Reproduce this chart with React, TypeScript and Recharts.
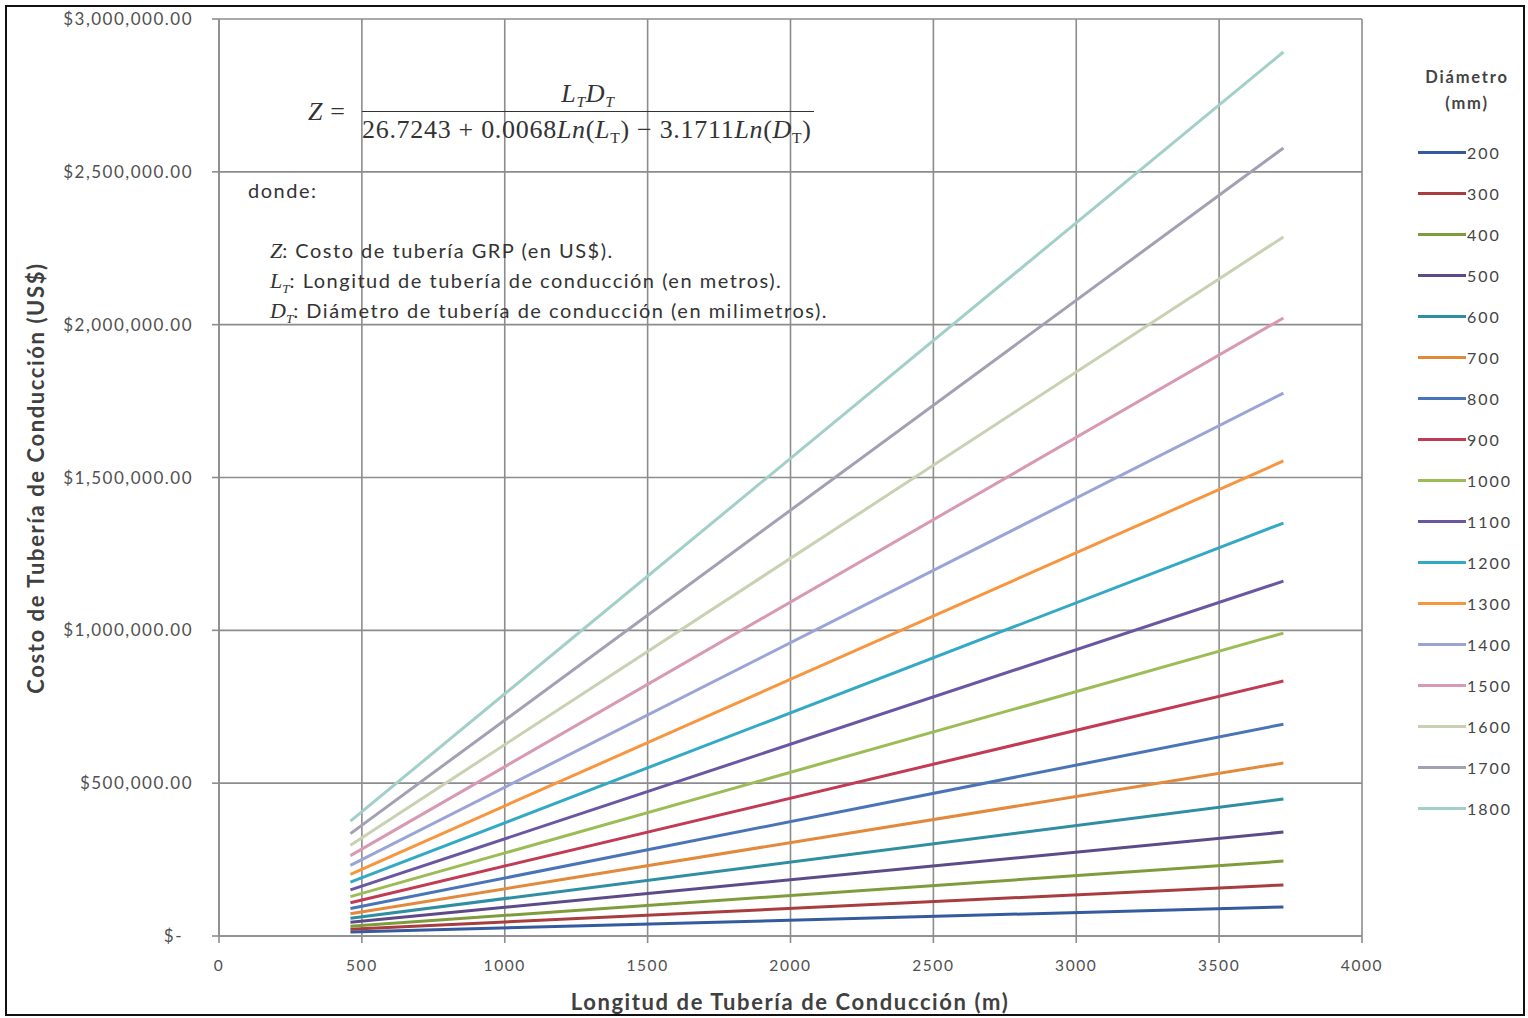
import { LineChart, Line, XAxis, YAxis, CartesianGrid } from 'recharts';

// pipe diameters (mm), one line each
const DIAMETERS = [200, 300, 400, 500, 600, 700, 800, 900, 1000, 1100, 1200, 1300, 1400, 1500, 1600, 1700, 1800];

const COLORS = [
  '#345b9e', '#a83c3e', '#7f9c3c', '#5d4a88', '#2f8ea2', '#e3893c',
  '#4a74b8', '#c23b55', '#9cbc55', '#6a57a2', '#33a9c4', '#f7963f',
  '#9aa4d6', '#d79ab2', '#c8d2b2', '#a4a0b4', '#a2d0c8',
];

// pipe length range (m)
const L_START = 460;
const L_END = 3725;

// cost (US$) at each end of the length range
const COST_START = [13000, 22000, 32000, 45000, 58000, 73000, 90000, 109000, 129000, 151000, 176000, 202000, 231000, 263000, 297000, 335000, 376000];
const COST_END = [95000, 167000, 245000, 340000, 448000, 566000, 693000, 834000, 991000, 1161000, 1351000, 1554000, 1776000, 2022000, 2287000, 2578000, 2892000];

const X_TICKS = [0, 500, 1000, 1500, 2000, 2500, 3000, 3500, 4000];
const Y_TICKS = [0, 500000, 1000000, 1500000, 2000000, 2500000, 3000000];

const FONT = 'Lato, "Open Sans", sans-serif';
const MATH = '"Liberation Serif", "DejaVu Serif", serif';
const GRID = '#8c8c8c';
const INK = '#333';

const series = DIAMETERS.map((d, i) => ({
  name: String(d),
  color: COLORS[i],
  points: [
    { x: L_START, y: COST_START[i] },
    { x: L_END, y: COST_END[i] },
  ],
}));

const money = (v: number) =>
  v === 0 ? '$-' : '$' + v.toLocaleString('en-US', { minimumFractionDigits: 2, maximumFractionDigits: 2 });

function YTick({ x, y, payload }: any) {
  const zero = payload.value === 0;
  return (
    <text x={zero ? x - 10 : x} y={y} dy="0.355em" textAnchor="end" fill="#505050" fontSize={17} fontFamily={FONT} letterSpacing={1.5}>
      {money(payload.value)}
    </text>
  );
}

const Sub = ({ children }: { children: string }) => (
  <sub style={{ fontSize: '0.6em', verticalAlign: '-0.35em', lineHeight: 0 }}>{children}</sub>
);

function Formula() {
  const base = { position: 'absolute' as const, fontFamily: MATH, fontSize: 26, color: INK, whiteSpace: 'nowrap' as const, letterSpacing: 0.7 };
  return (
    <>
      <div style={{ ...base, left: 308, top: 96, lineHeight: '32px' }}>
        <i>Z</i> =
      </div>
      <div style={{ ...base, left: 362, width: 452, top: 79, lineHeight: '30px', textAlign: 'center', fontStyle: 'italic' }}>
        L<Sub>T</Sub>D<Sub>T</Sub>
      </div>
      <div style={{ position: 'absolute', left: 362, top: 111, width: 452, height: 0, borderTop: `1.6px solid ${INK}` }} />
      <div style={{ ...base, left: 362, top: 114, lineHeight: '32px' }}>
        26.7243 + 0.0068<i>Ln</i>(<i>L</i><Sub>T</Sub>) − 3.1711<i>Ln</i>(<i>D</i><Sub>T</Sub>)
      </div>
    </>
  );
}

function Notes() {
  const line = { position: 'absolute' as const, left: 270, fontFamily: FONT, fontSize: 20, color: INK, whiteSpace: 'nowrap' as const, letterSpacing: 1.5, lineHeight: '24px' };
  const sym = { fontFamily: MATH, fontStyle: 'italic' as const, fontSize: 22, letterSpacing: 0 };
  return (
    <>
      <div style={{ ...line, left: 248, top: 178 }}>donde:</div>
      <div style={{ ...line, top: 238 }}>
        <span style={sym}>Z</span>: Costo de tubería GRP (en US$).
      </div>
      <div style={{ ...line, top: 268 }}>
        <span style={sym}>L<Sub>T</Sub></span>: Longitud de tubería de conducción (en metros).
      </div>
      <div style={{ ...line, top: 298 }}>
        <span style={sym}>D<Sub>T</Sub></span>: Diámetro de tubería de conducción (en milimetros).
      </div>
    </>
  );
}

function Legend() {
  return (
    <div style={{ position: 'absolute', left: 1410, top: 64, width: 114, fontFamily: FONT, color: '#444' }}>
      <div style={{ textAlign: 'center', fontWeight: 700, fontSize: 16.5, letterSpacing: 1.8, lineHeight: '26px' }}>
        Diámetro<br />(mm)
      </div>
      <div style={{ position: 'relative', marginTop: 26 }}>
        {series.map((s, i) => (
          <div key={s.name} style={{ position: 'absolute', top: i * 41, left: 8, display: 'flex', alignItems: 'center', height: 20 }}>
            <div style={{ width: 48, height: 3, background: s.color }} />
            <span style={{ fontSize: 16, marginLeft: 1, letterSpacing: 2 }}>{s.name}</span>
          </div>
        ))}
      </div>
    </div>
  );
}

export default function App() {
  const title = { position: 'absolute' as const, fontFamily: FONT, fontWeight: 700, fontSize: 22, letterSpacing: 1.6, color: '#404040', whiteSpace: 'nowrap' as const };
  return (
    <div style={{ position: 'absolute', left: 0, top: 0, width: 1528, height: 1018, background: '#fff', overflow: 'hidden' }}>
      <div style={{ position: 'absolute', left: 5, top: 5, width: 1516, height: 1007, border: '2px solid #111' }} />
      <div style={{ position: 'absolute', left: 0, top: 0 }}>
        <LineChart width={1528} height={1018} margin={{ top: 19, right: 166, bottom: 42, left: 19 }}>
          <CartesianGrid stroke={GRID} strokeWidth={1.6} />
          <XAxis
            type="number"
            dataKey="x"
            domain={[0, 4000]}
            ticks={X_TICKS}
            allowDataOverflow
            height={40}
            stroke={GRID}
            strokeWidth={1.6}
            tickSize={7}
            tickMargin={17}
            tick={{ fill: '#505050', fontSize: 15.5, fontFamily: FONT, letterSpacing: 1.6 }}
          />
          <YAxis
            type="number"
            dataKey="y"
            domain={[0, 3000000]}
            ticks={Y_TICKS}
            width={200}
            stroke={GRID}
            strokeWidth={1.6}
            tickSize={7}
            tickMargin={19}
            tick={<YTick />}
          />
          {series.map((s) => (
            <Line
              key={s.name}
              data={s.points}
              dataKey="y"
              name={s.name}
              stroke={s.color}
              strokeWidth={3}
              dot={false}
              isAnimationActive={false}
            />
          ))}
        </LineChart>
      </div>
      <Formula />
      <Notes />
      <Legend />
      <div style={{ ...title, left: 35, top: 478, transform: 'translate(-50%, -50%) rotate(-90deg)' }}>
        Costo de Tubería de Conducción (US$)
      </div>
      <div style={{ ...title, left: 790, top: 1001, transform: 'translate(-50%, -50%)' }}>
        Longitud de Tubería de Conducción (m)
      </div>
    </div>
  );
}
